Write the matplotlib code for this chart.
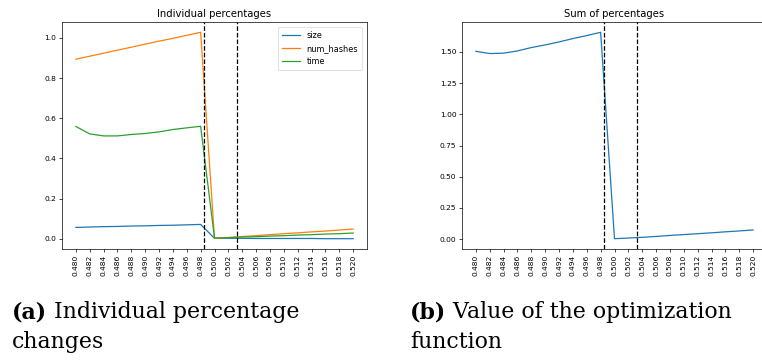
import numpy as np
import matplotlib.pyplot as plt

# x grid of the sweep
thresholds = [0.480, 0.482, 0.484, 0.486, 0.488, 0.490, 0.492, 0.494, 0.496, 0.498,
              0.500, 0.502, 0.504, 0.506, 0.508, 0.510, 0.512, 0.514, 0.516, 0.518, 0.520]

size = [0.056, 0.058, 0.060, 0.061, 0.063, 0.064, 0.066, 0.067, 0.069, 0.071,
        0.002, 0.002, 0.002, 0.001, 0.001, 0.001, 0.001, 0.001, 0.000, 0.000, 0.000]
num_hashes = [0.894, 0.909, 0.924, 0.939, 0.954, 0.969, 0.984, 0.998, 1.013, 1.028,
              0.002, 0.006, 0.011, 0.015, 0.020, 0.025, 0.029, 0.034, 0.038, 0.043, 0.048]
time = [0.559, 0.522, 0.512, 0.512, 0.519, 0.524, 0.532, 0.544, 0.552, 0.560,
        0.003, 0.005, 0.008, 0.010, 0.013, 0.015, 0.018, 0.020, 0.023, 0.025, 0.028]
total = [1.505, 1.487, 1.490, 1.508, 1.535, 1.556, 1.580, 1.607, 1.631, 1.657,
         0.004, 0.009, 0.015, 0.022, 0.030, 0.037, 0.044, 0.051, 0.059, 0.066, 0.074]

bounds = [0.4985, 0.5033]

captions = [("(a)", "Individual percentage", "changes"),
            ("(b)", "Value of the optimization", "function")]

TICK = 5.4
TITLE = 7.2
LW = 0.9

fig = plt.figure(figsize=(7.62, 3.6), dpi=100)
ax1 = fig.add_axes([62 / 762, 111 / 360, 305 / 762, 227 / 360])
ax2 = fig.add_axes([462 / 762, 111 / 360, 305 / 762, 227 / 360])

ax1.plot(thresholds, size, label="size", lw=LW)
ax1.plot(thresholds, num_hashes, label="num_hashes", lw=LW)
ax1.plot(thresholds, time, label="time", lw=LW)
ax1.set_title("Individual percentages", fontsize=TITLE, pad=3.5)
leg = ax1.legend(fontsize=5.9, loc="upper right", handlelength=2.2, borderpad=0.5,
                 labelspacing=0.5, framealpha=0.8, borderaxespad=0.6)
leg.get_frame().set_linewidth(0.5)

ax2.plot(thresholds, total, lw=LW)
ax2.set_title("Sum of percentages", fontsize=TITLE, pad=3.5)

for ax in (ax1, ax2):
    for b in bounds:
        ax.axvline(b, color="black", ls="--", lw=LW)
    ax.set_xticks(thresholds)
    ax.set_xticklabels([f"{t:.3f}" for t in thresholds], rotation=90)
    ax.tick_params(labelsize=TICK, width=0.5, length=2, pad=2)
    for sp in ax.spines.values():
        sp.set_linewidth(0.5)

# subfigure captions, bold label then regular text
cap_font = "DejaVu Serif"
cap_size = 15.8
renderer = fig.canvas.get_renderer()
for (lab, line1, line2), x0 in zip(captions, [12 / 762, 410 / 762]):
    t = fig.text(x0, 42 / 360, lab, fontsize=cap_size, fontweight="bold",
                 family=cap_font, va="baseline")
    w = t.get_window_extent(renderer).width / fig.bbox.width
    fig.text(x0 + w, 42 / 360, " " + line1, fontsize=cap_size,
             family=cap_font, va="baseline")
    fig.text(x0, 12 / 360, line2, fontsize=cap_size, family=cap_font, va="baseline")

fig.savefig("out.png", dpi=100)
